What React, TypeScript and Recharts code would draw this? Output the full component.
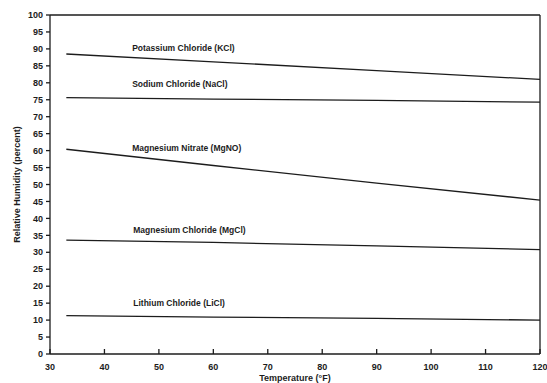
import React from 'react';
import { LineChart, Line, XAxis, YAxis, ReferenceLine, ReferenceDot, Label } from 'recharts';

const temps = [33, 60, 90, 120];
const potassiumChloride = [88.5, 86.2, 83.6, 81.0];
const sodiumChloride = [75.6, 75.2, 74.8, 74.3];
const magnesiumNitrate = [60.4, 55.6, 50.4, 45.4];
const magnesiumChloride = [33.6, 32.9, 31.9, 30.8];
const lithiumChloride = [11.3, 10.9, 10.5, 10.0];

const xTicks = [30, 40, 50, 60, 70, 80, 90, 100, 110, 120];
const yTicks = [0, 5, 10, 15, 20, 25, 30, 35, 40, 45, 50, 55, 60, 65, 70, 75, 80, 85, 90, 95, 100];

const labelNames = [
    'Potassium Chloride (KCl)',
    'Sodium Chloride (NaCl)',
    'Magnesium Nitrate (MgNO)',
    'Magnesium Chloride (MgCl)',
    'Lithium Chloride (LiCl)',
];
const labelTemps = [45, 45, 45, 45.2, 45.2];
const labelValues = [90.3, 79.6, 60.8, 36.6, 15.0];

const seriesValues = [potassiumChloride, sodiumChloride, magnesiumNitrate, magnesiumChloride, lithiumChloride];

const INK = '#1c1c1c';
const FONT = '"Liberation Sans", Arial, sans-serif';

const toPoints = (values: number[]) => temps.map((t, i) => ({ t, v: values[i] }));

export default function App() {
    return (
        <div style={{ position: 'absolute', left: 0, top: 0, width: 547, height: 383, background: '#fff' }}>
            <LineChart
                width={547}
                height={383}
                margin={{ top: 15, right: 7, left: 0, bottom: 0 }}
                style={{ fontFamily: FONT }}
            >
                <XAxis
                    type="number"
                    dataKey="t"
                    domain={[30, 120]}
                    ticks={xTicks}
                    allowDataOverflow
                    height={29}
                    stroke={INK}
                    strokeWidth={1.3}
                    tickSize={-5}
                    tickMargin={15}
                    tick={{ fill: INK, fontSize: 9, fontWeight: 'bold' }}
                >
                    <Label
                        value="Temperature (°F)"
                        position="insideBottom"
                        offset={2}
                        style={{ fill: INK, fontSize: 9, fontWeight: 'bold' }}
                    />
                </XAxis>
                <YAxis
                    type="number"
                    dataKey="v"
                    domain={[0, 100]}
                    ticks={yTicks}
                    interval={0}
                    width={50}
                    stroke={INK}
                    strokeWidth={1.3}
                    tickSize={4}
                    tickMargin={3}
                    tick={{ fill: INK, fontSize: 9, fontWeight: 'bold' }}
                >
                    <Label
                        value="Relative Humidity (percent)"
                        angle={-90}
                        position="insideLeft"
                        offset={17}
                        style={{ fill: INK, fontSize: 9, fontWeight: 'bold', textAnchor: 'middle' }}
                    />
                </YAxis>
                <ReferenceLine y={100} stroke={INK} strokeWidth={1.3} />
                <ReferenceLine x={120} stroke={INK} strokeWidth={1.3} />
                {seriesValues.map((values, i) => (
                    <Line
                        key={labelNames[i]}
                        data={toPoints(values)}
                        dataKey="v"
                        type="linear"
                        stroke={INK}
                        strokeWidth={1.3}
                        dot={false}
                        isAnimationActive={false}
                    />
                ))}
                {labelNames.map((name, i) => (
                    <ReferenceDot
                        key={name}
                        x={labelTemps[i]}
                        y={labelValues[i]}
                        r={0.5}
                        fill="none"
                        stroke="none"
                        label={{
                            value: name,
                            position: 'right',
                            offset: 0,
                            fill: INK,
                            fontSize: 8.5,
                            fontWeight: 'bold',
                        }}
                    />
                ))}
            </LineChart>
        </div>
    );
}
